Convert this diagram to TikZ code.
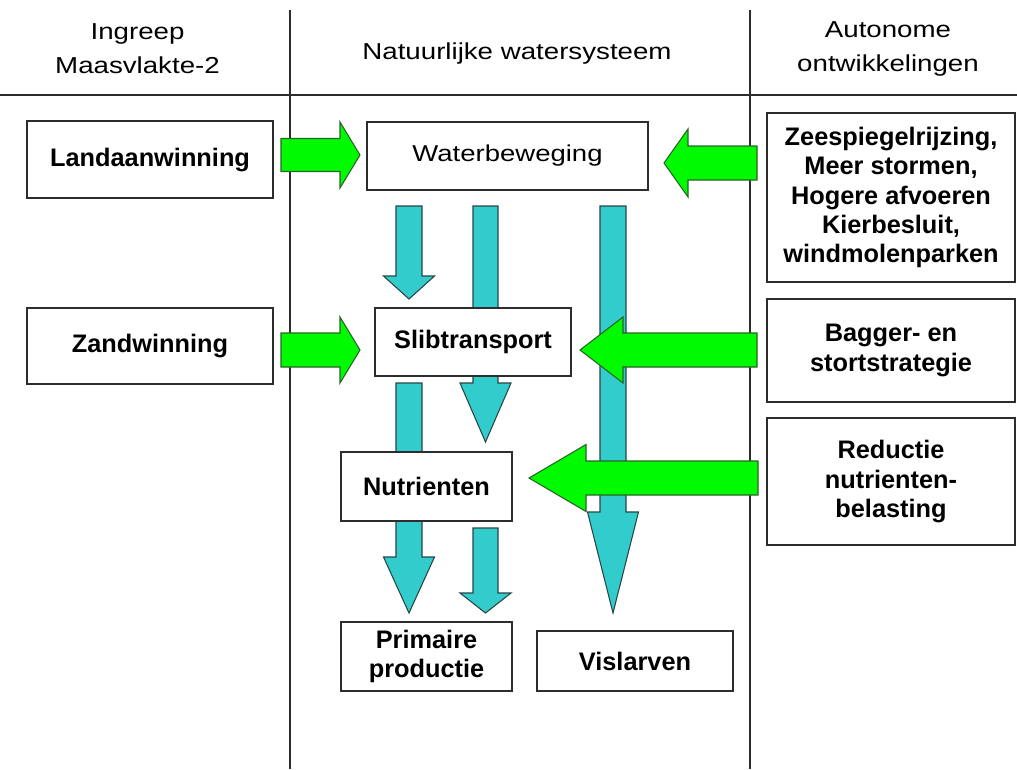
\documentclass[tikz,border=0pt]{standalone}
\usepackage{fontspec}
\setmainfont{Liberation Sans}
\newfontfamily\hdrfont[FakeStretch=1.2]{Liberation Sans}
\definecolor{grfill}{RGB}{0,250,0}
\definecolor{grline}{RGB}{40,100,40}
\definecolor{cyfill}{RGB}{51,204,204}
\definecolor{cyline}{RGB}{40,70,70}
\definecolor{frame}{RGB}{45,45,45}
\newcommand\dnarr[6]{% x, ytop, headbase, tip, shafthalf, headhalf
  \draw[cyarr] (#1-#5,#2) -- (#1+#5,#2) -- (#1+#5,#3) -- (#1+#6,#3) -- (#1,#4)
    -- (#1-#6,#3) -- (#1-#5,#3) -- cycle;}
\newcommand\hzarr[6]{% ycenter, tail, headbase, tip, shafthalf, headhalf
  \draw[grarr] (#2,#1-#5) -- (#3,#1-#5) -- (#3,#1-#6) -- (#4,#1) -- (#3,#1+#6)
    -- (#3,#1+#5) -- (#2,#1+#5) -- cycle;}
\begin{document}
\begin{tikzpicture}[x=0.75pt,y=-0.75pt,
  bx/.style 2 args={minimum width=#1*0.75pt,minimum height=#2*0.75pt},
  boxst/.style={draw=frame,line width=1.2pt,fill=white,rectangle,inner sep=0pt,
    align=center,font=\fontsize{19}{22}\selectfont\bfseries},
  hdr/.style={align=center,inner sep=0pt,font=\hdrfont\fontsize{17.3}{25.5}\selectfont},
  sepline/.style={draw=frame,line width=1.4pt},
  cyarr/.style={fill=cyfill,draw=cyline,line width=0.8pt},
  grarr/.style={fill=grfill,draw=grline,line width=0.8pt}]
\fill[white] (0,0) rectangle (1017,769);
\useasboundingbox (0,0) rectangle (1017,769);
% header
\node[hdr] (h1) at (137.5,49) {Ingreep\\Maasvlakte-2};
\node[hdr] (h2) at (517,54) {Natuurlijke watersysteem};
\node[hdr] (h3) at (888,49) {Autonome\\ontwikkelingen};
\draw[sepline] (0,95) -- (1017,95);
\draw[sepline] (290,10) -- (290,769);
\draw[sepline] (750,10) -- (750,769);
% cyan arrows
\dnarr{409}{206}{276}{299}{13}{25.5}
\dnarr{485.5}{206}{383}{442}{12.5}{25.5}
\dnarr{613}{206}{512}{613}{13}{25.5}
\dnarr{409}{383}{557}{613}{13}{25.5}
\dnarr{485.5}{528}{593}{613}{12.5}{25.5}
% boxes
\node[boxst,bx={246}{77}] (land) at (150,159.5) {Landaanwinning};
\node[boxst,bx={246}{76}] (zand) at (150,346) {Zandwinning};
\node[boxst,bx={281}{68},font=\hdrfont\fontsize{17.2}{20}\selectfont] (wb) at (507.5,156) {Waterbeweging};
\node[boxst,bx={196}{68}] (slib) at (473,342) {Slibtransport};
\node[boxst,bx={171}{69}] (nut) at (426.5,486.5) {Nutrienten};
\node[boxst,bx={171}{69}] (prim) at (426.5,656.5) {Primaire\\productie};
\node[boxst,bx={196}{60}] (vis) at (635,661) {Vislarven};
\node[boxst,bx={248}{169}] (zee) at (891,197.5) {Zeespiegelrijzing,\\Meer stormen,\\Hogere afvoeren\\Kierbesluit,\\windmolenparken};
\node[boxst,bx={248}{103}] (bag) at (891,350.5) {Bagger- en\\stortstrategie};
\node[boxst,bx={248}{127}] (red) at (891,481.5) {Reductie\\nutrienten-\\belasting};
% green arrows
\hzarr{155}{281}{340}{360}{16.5}{33}
\hzarr{350}{281}{340}{360}{17}{33}
\hzarr{163}{757}{688}{664}{17}{34}
\hzarr{350}{757}{623}{580}{17}{33}
\hzarr{478}{758}{586}{529}{17}{33.5}
\end{tikzpicture}
\end{document}
